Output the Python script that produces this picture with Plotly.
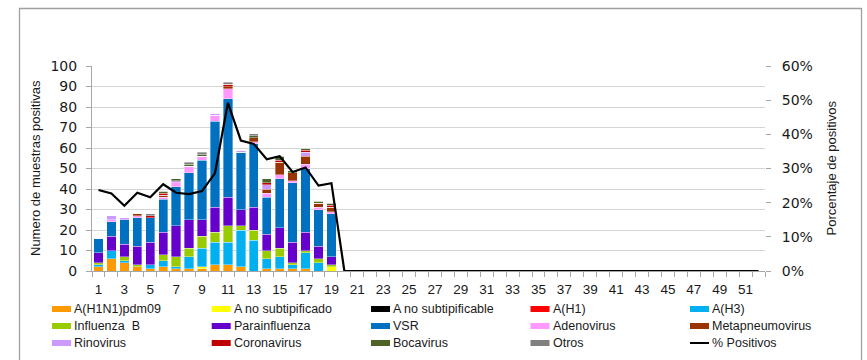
import plotly.graph_objects as go

# Epidemiological weeks on the x axis
weeks = list(range(1, 53))
week_labels = [str(w) for w in weeks]

# Positive samples per virus, weeks 1-19 (later weeks have no samples)
h1n1_pdm09 = [2, 6, 4, 2, 1, 2, 1, 1, 1, 3, 3, 2, 0, 1, 1, 1, 1, 0, 0]
a_no_subtipificado = [0, 0, 0, 0, 0, 0, 0, 0, 1, 0, 0, 0, 0, 0, 0, 0, 0, 0, 2]
a_no_subtipificable = [0, 0, 0, 0, 0, 0, 0, 0, 0, 0, 0, 0, 0, 0, 0, 0, 0, 0, 0]
a_h1 = [0, 0, 0, 0, 0, 0, 0, 0, 0, 0, 0, 0, 0, 0, 0, 0, 0, 0, 0]
a_h3 = [1, 4, 1, 0, 2, 3, 1, 6, 9, 11, 11, 18, 15, 5, 6, 2, 8, 4, 0]
influenza_b = [1, 0, 2, 1, 0, 3, 5, 4, 6, 5, 8, 2, 5, 4, 4, 1, 1, 2, 1]
parainfluenza = [5, 7, 6, 9, 11, 11, 15, 14, 8, 12, 14, 8, 11, 8, 10, 10, 9, 6, 4]
vsr = [7, 7, 12, 14, 12, 16, 19, 23, 29, 42, 48, 28, 31, 18, 24, 29, 31, 18, 21]
adenovirus = [0, 1, 0, 1, 0, 1, 2, 3, 2, 3, 5, 0, 1, 2, 2, 1, 2, 1, 1]
metapneumovirus = [0, 0, 0, 1, 0, 1, 0, 0, 0, 0, 1, 0, 2, 2, 6, 4, 4, 2, 2]
rinovirus = [0, 2, 1, 0, 0, 0, 1, 0, 0, 1, 0, 1, 0, 2, 0, 0, 2, 0, 0]
coronavirus = [0, 0, 0, 0, 1, 1, 0, 0, 0, 0, 1, 0, 0, 1, 1, 0, 1, 0, 1]
bocavirus = [0, 0, 0, 0, 0, 1, 1, 1, 1, 0, 0, 0, 1, 2, 2, 1, 1, 1, 1]
otros = [0, 0, 0, 0, 1, 0, 0, 1, 1, 0, 1, 0, 1, 0, 0, 0, 0, 0, 0]

# Percentage of positive samples per week
pct_positivos = [
    23.7, 22.7, 19.1, 22.9, 21.6, 25.4, 22.9, 22.5, 23.4, 28.6,
    49.2, 38.2, 37.2, 32.7, 33.6, 29.0, 30.3, 25.0, 25.7, 0,
    0, 0, 0, 0, 0, 0, 0, 0, 0, 0,
    0, 0, 0, 0, 0, 0, 0, 0, 0, 0,
    0, 0, 0, 0, 0, 0, 0, 0, 0, 0,
    0, 0,
]

series = [
    ("A(H1N1)pdm09", h1n1_pdm09, "#FF9900"),
    ("A no subtipificado", a_no_subtipificado, "#FFFF00"),
    ("A no subtipificable", a_no_subtipificable, "#000000"),
    ("A(H1)", a_h1, "#FF0000"),
    ("A(H3)", a_h3, "#00B0F0"),
    ("Influenza \u00a0B", influenza_b, "#99CC00"),
    ("Parainfluenza", parainfluenza, "#6600CC"),
    ("VSR", vsr, "#0070C0"),
    ("Adenovirus", adenovirus, "#FF99FF"),
    ("Metapneumovirus", metapneumovirus, "#993300"),
    ("Rinovirus", rinovirus, "#CC99FF"),
    ("Coronavirus", coronavirus, "#C00000"),
    ("Bocavirus", bocavirus, "#4F6228"),
    ("Otros", otros, "#808080"),
]
line_name = "% Positivos"
line_color = "#000000"

# Figure geometry (pixels)
W, H = 867, 360
L, R, T, B = 92, 102, 66, 89
PW, PH = W - L - R, H - T - B


def px_x(px):
    return (px - L) / PW


def px_y(py):
    return (H - B - py) / PH


fig = go.Figure()
for name, vals, color in series:
    fig.add_trace(go.Bar(
        x=weeks[:len(vals)], y=vals, name=name,
        marker=dict(color=color, line=dict(color="rgba(255,255,255,0.6)", width=0.6)),
        showlegend=False,
    ))

fig.add_trace(go.Scatter(
    x=weeks, y=pct_positivos, name=line_name, yaxis="y2", mode="lines",
    line=dict(color=line_color, width=2.2), showlegend=False,
))

axis_gray = "#A6A6A6"
tick_font = dict(family="DejaVu Sans", size=14, color="#1a1a1a")

fig.update_layout(
    width=W, height=H,
    margin=dict(l=L, r=R, t=T, b=B),
    paper_bgcolor="white", plot_bgcolor="white",
    barmode="stack", bargap=0.28,
    xaxis=dict(
        range=[0.5, 52.5], tickmode="array",
        tickvals=weeks[::2], ticktext=week_labels[::2],
        showgrid=False, zeroline=False,
        showline=True, linecolor=axis_gray, linewidth=1,
        ticks="", ticklabelstandoff=6,
        tickfont=dict(family="Liberation Sans", size=13.5, color="#1a1a1a"),
        minor=dict(tick0=0.5, dtick=1, ticks="outside", ticklen=5,
                   tickcolor=axis_gray, showgrid=False),
    ),
    yaxis=dict(
        range=[0, 100], dtick=10,
        showgrid=True, gridcolor="#D4D4D4", gridwidth=1, zeroline=False,
        showline=True, linecolor=axis_gray, linewidth=1,
        ticks="outside", ticklen=5, tickcolor=axis_gray,
        ticklabelstandoff=6, tickfont=tick_font,
    ),
    yaxis2=dict(
        range=[0, 60], dtick=10, ticksuffix="%",
        overlaying="y", side="right",
        showgrid=False, zeroline=False, showline=False,
        ticks="outside", ticklen=5, tickcolor=axis_gray,
        ticklabelstandoff=8, tickfont=tick_font,
    ),
    font=dict(family="Liberation Sans", color="#1a1a1a"),
)

# Axis titles
fig.add_annotation(
    text="Numero de muestras positivas", textangle=-90,
    xref="paper", yref="paper", x=px_x(35.5), y=0.5,
    xanchor="center", yanchor="middle", showarrow=False,
    font=dict(family="Liberation Sans", size=13, color="#1a1a1a"),
)
fig.add_annotation(
    text="Porcentaje de positivos", textangle=-90,
    xref="paper", yref="paper", x=px_x(831), y=0.5,
    xanchor="center", yanchor="middle", showarrow=False,
    font=dict(family="Liberation Sans", size=13, color="#1a1a1a"),
)

# Legend laid out as a 5 x 3 grid below the plot
col_x = [52, 211.7, 371, 530.5, 690]
row_y = [309, 326, 343]
entries = [(n, c, "bar") for n, _, c in series] + [(line_name, line_color, "line")]
for i, (name, color, kind) in enumerate(entries):
    cx = col_x[i % 5]
    cy = row_y[i // 5]
    if kind == "bar":
        fig.add_shape(type="rect", xref="paper", yref="paper",
                      x0=px_x(cx), x1=px_x(cx + 19),
                      y0=px_y(cy + 3), y1=px_y(cy - 3),
                      fillcolor=color, line=dict(width=0))
    else:
        fig.add_shape(type="line", xref="paper", yref="paper",
                      x0=px_x(cx), x1=px_x(cx + 19),
                      y0=px_y(cy), y1=px_y(cy),
                      line=dict(color=color, width=2))
    fig.add_annotation(
        text=name, xref="paper", yref="paper",
        x=px_x(cx + 20), y=px_y(cy), xanchor="left", yanchor="middle",
        showarrow=False,
        font=dict(family="Liberation Sans", size=12.5, color="#1a1a1a"),
    )

# Outer chart frame
fig.add_shape(type="rect", xref="paper", yref="paper",
              x0=px_x(19.5), x1=px_x(861.5), y0=px_y(380), y1=px_y(8.5),
              line=dict(color="#A0A0A0", width=1.3), fillcolor="rgba(0,0,0,0)",
              layer="below")

fig.write_html("out.html")
